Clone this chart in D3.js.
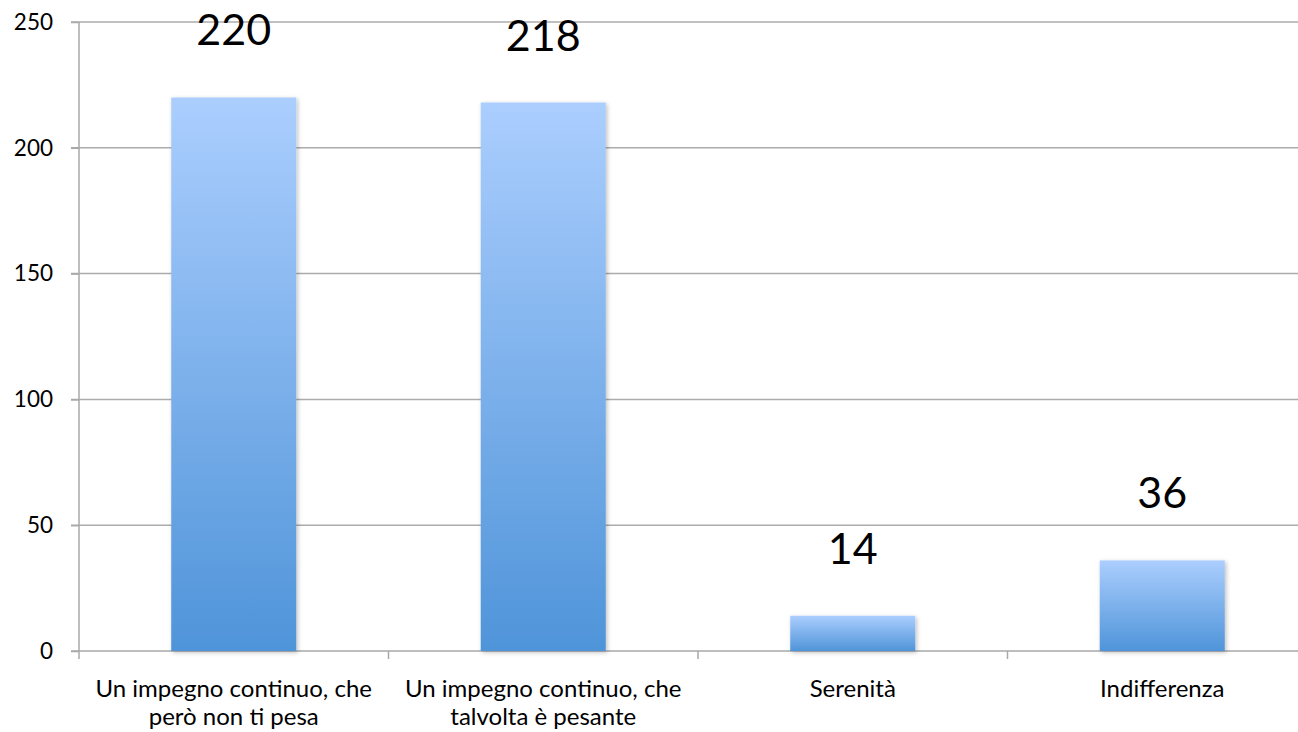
<!DOCTYPE html>
<html><head><meta charset="utf-8">
<script src="https://cdn.jsdelivr.net/npm/d3@7"></script>
<style>body{margin:0;background:#fff}svg{display:block}text{font-family:Lato,"Open Sans",sans-serif}</style>
</head><body>
<svg id="c" width="1298" height="732"></svg>
<script>
const categories = [["Un impegno continuo, che","però non ti pesa"],["Un impegno continuo, che","talvolta è pesante"],["Serenità"],["Indifferenza"]];
const values = [220, 218, 14, 36];
const yTicks = [0, 50, 100, 150, 200, 250];

const svg = d3.select("#c");
const m = {l:79, t:22};
const plotH = 629, plotW = 1238;
const x = d3.scaleBand().domain(d3.range(values.length)).range([m.l, m.l+plotW]).paddingInner(0.596).paddingOuter(0.298);
const xb = d3.scaleBand().domain(d3.range(values.length)).range([m.l, m.l+plotW]);
const y = d3.scaleLinear().domain([0,250]).range([m.t+plotH, m.t]);

const defs = svg.append("defs");
const g = defs.append("linearGradient").attr("id","grad").attr("x1",0).attr("y1",0).attr("x2",0).attr("y2",1);
g.append("stop").attr("offset","0%").attr("stop-color","#abcefe");
g.append("stop").attr("offset","100%").attr("stop-color","#4f94d9");
const f = defs.append("filter").attr("id","sh").attr("x","-10%").attr("y","-10%").attr("width","130%").attr("height","130%");
f.append("feDropShadow").attr("dx",1.5).attr("dy",1.5).attr("stdDeviation",2).attr("flood-color","#000").attr("flood-opacity",0.25);

// gridlines
svg.append("g").selectAll("line").data(yTicks.slice(1)).join("line")
  .attr("x1", m.l-8).attr("x2", 1298).attr("y1", d=>y(d)).attr("y2", d=>y(d))
  .attr("stroke","#acacac").attr("stroke-width",1.5);

// y axis
const ya = svg.append("g").attr("transform",`translate(${m.l},0)`)
  .call(d3.axisLeft(y).tickValues(yTicks).tickSize(8).tickPadding(18));
ya.select(".domain").remove();
ya.append("line").attr("x1",0).attr("x2",0).attr("y1",m.t).attr("y2",m.t+plotH+8).attr("stroke","#a8a8a8").attr("stroke-width",1.5);
ya.selectAll(".tick line").attr("stroke","#a8a8a8").attr("stroke-width",1.5);
ya.selectAll(".tick text").attr("font-size",22.5).attr("fill","#000").attr("font-family","Lato");

// x axis
const xa = svg.append("g");
xa.append("line").attr("x1",m.l-8).attr("x2",1298).attr("y1",y(0)).attr("y2",y(0)).attr("stroke","#a8a8a8").attr("stroke-width",1.5);
xa.selectAll("line.t").data(d3.range(1,values.length+1)).join("line").attr("class","t")
  .attr("x1",d=>m.l+d*xb.bandwidth()).attr("x2",d=>m.l+d*xb.bandwidth())
  .attr("y1",y(0)).attr("y2",y(0)+8).attr("stroke","#a8a8a8").attr("stroke-width",1.5);

// bars
svg.append("g").selectAll("rect").data(values).join("rect")
  .attr("x",(d,i)=>x(i)).attr("width",x.bandwidth())
  .attr("y",d=>y(d)).attr("height",d=>y(0)-y(d))
  .attr("fill","url(#grad)").attr("filter","url(#sh)");

// value labels
svg.append("g").selectAll("text").data(values).join("text")
  .attr("x",(d,i)=>x(i)+x.bandwidth()/2)
  .attr("y",d=>Math.max(45, y(d)-52))
  .attr("text-anchor","middle").attr("font-size",43).attr("fill","#000")
  .text(d=>d);

// category labels
const cl = svg.append("g").selectAll("text").data(categories).join("text")
  .attr("x",(d,i)=>xb(i)+xb.bandwidth()/2).attr("y",697)
  .attr("text-anchor","middle").attr("font-size",24).attr("fill","#000");
cl.selectAll("tspan").data(d=>d).join("tspan")
  .attr("x",function(){return d3.select(this.parentNode).attr("x");})
  .attr("dy",(d,i)=>i?28:0).text(d=>d);
</script>
</body></html>
